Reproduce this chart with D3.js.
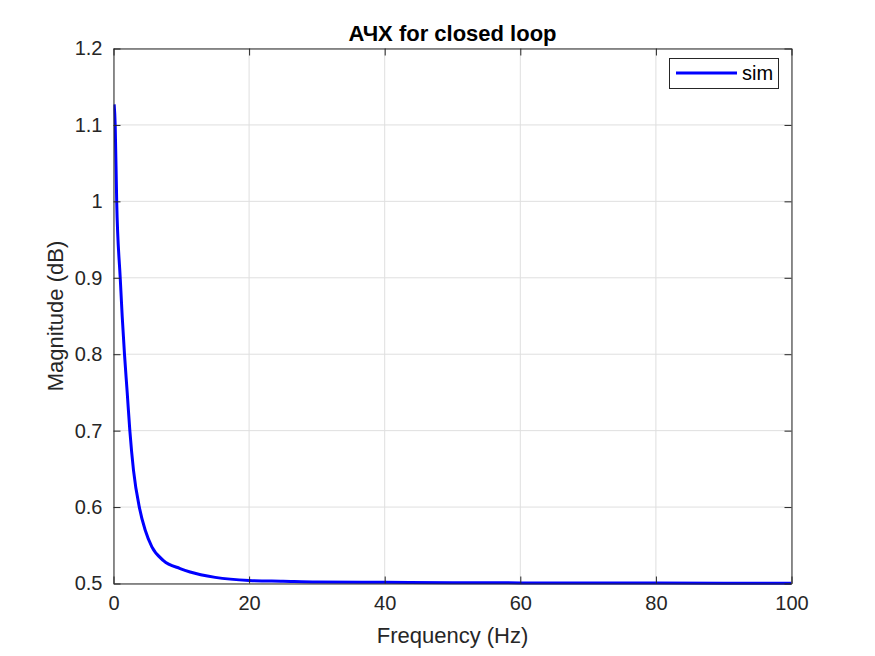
<!DOCTYPE html>
<html><head><meta charset="utf-8">
<script src="https://cdn.jsdelivr.net/npm/d3@7"></script>
<style>html,body{margin:0;padding:0;background:#fff;} svg{display:block;}</style>
</head><body>
<script>
// Data
const freq = [0.1, 0.25, 0.47, 0.99, 1.28, 1.62, 2.02, 2.41, 2.95, 3.83, 4.67, 5.66, 7.37, 9.83, 11.3, 15, 20, 25, 30, 40, 50, 60, 70, 80, 90, 100];
const mag  = [1.127, 1.1, 1.0, 0.9, 0.85, 0.8, 0.75, 0.7, 0.648, 0.599, 0.570, 0.548, 0.530, 0.5196, 0.515, 0.508, 0.504, 0.503, 0.502, 0.5015, 0.501, 0.5008, 0.5006, 0.5005, 0.5004, 0.5003];
const xTicks = [0, 20, 40, 60, 80, 100];
const yTicks = [0.5, 0.6, 0.7, 0.8, 0.9, 1.0, 1.1, 1.2];
const titleText = "АЧХ for closed loop";
const xLabel = "Frequency (Hz)";
const yLabel = "Magnitude (dB)";
const seriesName = "sim";

const W = 875, H = 656;
const L = 113.5, T = 48.5, R = 791.5, B = 583.5;
const font = "'Liberation Sans', Arial, Helvetica, sans-serif";
const axisColor = "#262626";

const svg = d3.select("body").append("svg").attr("width", W).attr("height", H);
const x = d3.scaleLinear().domain([0, 100]).range([L, R]);
const y = d3.scaleLinear().domain([0.5, 1.2]).range([B, T]);

// grid
const g = svg.append("g");
g.selectAll(".gx").data(xTicks).enter().append("line")
  .attr("x1", d => x(d)).attr("x2", d => x(d)).attr("y1", T).attr("y2", B)
  .attr("stroke", "#dfdfdf").attr("stroke-width", 1);
g.selectAll(".gy").data(yTicks).enter().append("line")
  .attr("x1", L).attr("x2", R).attr("y1", d => y(d)).attr("y2", d => y(d))
  .attr("stroke", "#dfdfdf").attr("stroke-width", 1);

// line
svg.append("clipPath").attr("id", "clip").append("rect")
  .attr("x", L).attr("y", T).attr("width", R - L).attr("height", B - T + 2);
const pts = freq.map((f, i) => [f, mag[i]]);
svg.append("path").datum(pts)
  .attr("clip-path", "url(#clip)")
  .attr("fill", "none").attr("stroke", "#0000ff").attr("stroke-width", 3)
  .attr("stroke-linejoin", "round")
  .attr("d", d3.line().x(d => x(d[0])).y(d => y(d[1])).curve(d3.curveMonotoneX));

// axes with inward ticks
const tickLen = 7;
const axB = svg.append("g").attr("transform", `translate(0,${B})`)
  .call(d3.axisBottom(x).tickValues(xTicks).tickSizeInner(-tickLen).tickSizeOuter(0).tickPadding(12).tickFormat(d3.format("d")));
const axT = svg.append("g").attr("transform", `translate(0,${T})`)
  .call(d3.axisTop(x).tickValues(xTicks).tickSizeInner(-tickLen).tickSizeOuter(0).tickFormat(""));
const axL = svg.append("g").attr("transform", `translate(${L},0)`)
  .call(d3.axisLeft(y).tickValues(yTicks).tickSizeInner(-tickLen).tickSizeOuter(0).tickPadding(11).tickFormat(d => d === 1 ? "1" : d3.format(".1f")(d)));
const axR = svg.append("g").attr("transform", `translate(${R},0)`)
  .call(d3.axisRight(y).tickValues(yTicks).tickSizeInner(-tickLen).tickSizeOuter(0).tickFormat(""));
[axB, axT, axL, axR].forEach(a => {
  a.select(".domain").attr("stroke", axisColor).attr("stroke-width", 1);
  a.selectAll(".tick line").attr("stroke", axisColor).attr("stroke-width", 1);
  a.selectAll("text").attr("fill", axisColor).style("font-family", font).style("font-size", "20px");
});

// labels
svg.append("text").attr("x", (L + R) / 2).attr("y", 643).attr("text-anchor", "middle")
  .style("font-family", font).style("font-size", "22px").attr("fill", axisColor).text(xLabel);
svg.append("text").attr("transform", `translate(63,${(T + B) / 2}) rotate(-90)`).attr("text-anchor", "middle")
  .style("font-family", font).style("font-size", "22px").attr("fill", axisColor).text(yLabel);
svg.append("text").attr("x", (L + R) / 2).attr("y", 41).attr("text-anchor", "middle")
  .style("font-family", font).style("font-size", "22px").style("font-weight", "bold").attr("fill", "#000").text(titleText);

// legend
const lg = svg.append("g");
lg.append("rect").attr("x", 669.5).attr("y", 58.5).attr("width", 109).attr("height", 30)
  .attr("fill", "#fff").attr("stroke", axisColor).attr("stroke-width", 1);
lg.append("line").attr("x1", 676).attr("x2", 737).attr("y1", 73).attr("y2", 73)
  .attr("stroke", "#0000ff").attr("stroke-width", 3);
lg.append("text").attr("x", 742).attr("y", 80).style("font-family", font).style("font-size", "20px")
  .attr("fill", "#000").text(seriesName);
</script>
</body></html>
